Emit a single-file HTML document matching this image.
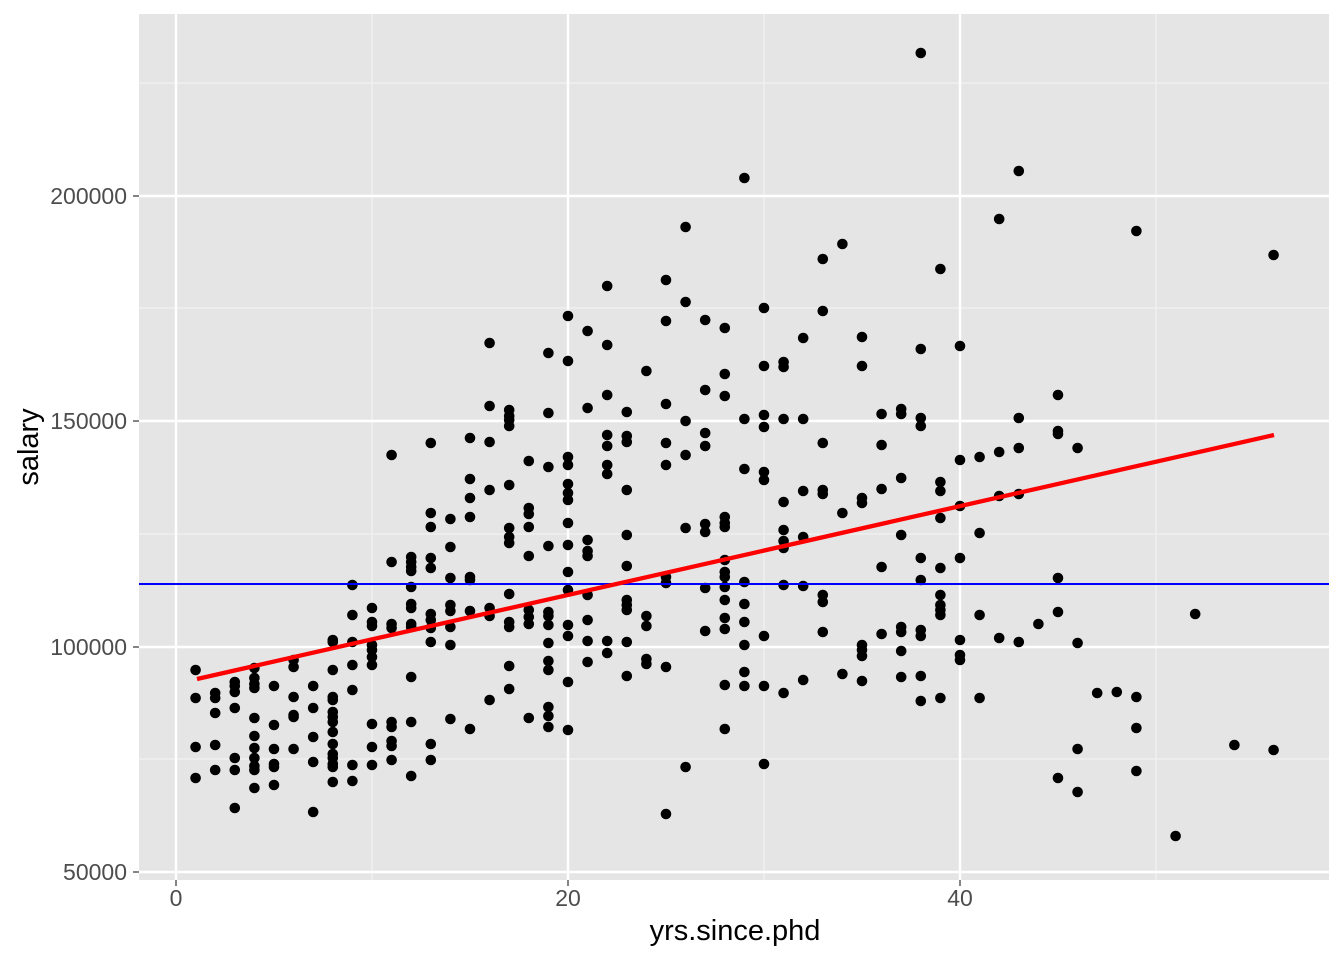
<!DOCTYPE html>
<html><head><meta charset="utf-8"><style>
html,body{margin:0;padding:0;background:#fff;}
svg{display:block;font-family:"Liberation Sans",Arial,sans-serif;}
</style></head><body>
<svg id="s" width="1344" height="960" xmlns="http://www.w3.org/2000/svg">
<rect x="139" y="14" width="1190" height="866" fill="#e5e5e5"/>
<g stroke="#f2f2f2" stroke-width="1.2">
<line x1="372" x2="372" y1="14" y2="880"/><line x1="764" x2="764" y1="14" y2="880"/><line x1="1156" x2="1156" y1="14" y2="880"/>
<line x1="139" x2="1329" y1="83" y2="83"/><line x1="139" x2="1329" y1="308" y2="308"/><line x1="139" x2="1329" y1="534" y2="534"/><line x1="139" x2="1329" y1="759" y2="759"/>
</g>
<g stroke="#fff" stroke-width="2.4">
<line x1="176" x2="176" y1="14" y2="880"/><line x1="568" x2="568" y1="14" y2="880"/><line x1="960" x2="960" y1="14" y2="880"/>
<line x1="139" x2="1329" y1="196" y2="196"/><line x1="139" x2="1329" y1="421" y2="421"/><line x1="139" x2="1329" y1="647" y2="647"/><line x1="139" x2="1329" y1="872" y2="872"/>
</g>
<g id="pts" fill="#000"></g>
<line x1="139" x2="1329" y1="584" y2="584" stroke="#0000ff" stroke-width="2"/>
<line x1="197" y1="679" x2="1274" y2="435" stroke="#ff0000" stroke-width="4.3"/>
<g stroke="#333" stroke-width="1.2">
<line x1="133" x2="139" y1="196" y2="196"/><line x1="133" x2="139" y1="421" y2="421"/><line x1="133" x2="139" y1="647" y2="647"/><line x1="133" x2="139" y1="872" y2="872"/>
<line x1="176" x2="176" y1="880" y2="886"/><line x1="568" x2="568" y1="880" y2="886"/><line x1="960" x2="960" y1="880" y2="886"/>
</g>
<g fill="#4d4d4d" font-size="23" text-anchor="end">
<text x="127" y="204">200000</text><text x="127" y="429">150000</text><text x="127" y="655">100000</text><text x="127" y="880">50000</text>
</g>
<g fill="#4d4d4d" font-size="23" text-anchor="middle">
<text x="176" y="906">0</text><text x="568" y="906">20</text><text x="960" y="906">40</text>
</g>
<text x="735" y="940" font-size="29" text-anchor="middle" fill="#000">yrs.since.phd</text>
<text transform="translate(38,447) rotate(-90)" font-size="29" text-anchor="middle" fill="#000">salary</text>
</svg>
<script>
var d={1:[670,698,747,778],2:[693,698,713,745,770],3:[682,686,692,708,758,770,808],4:[668,678,684,688,718,736,748,758,766,770,788],5:[686,725,749,764,767,785],6:[660,667,697,715,717,749],7:[686,708,737,762,812],8:[640,642,670,697,700,712,717,722,732,744,754,758,764,767,782],9:[585,615,642,665,690,765,781],10:[608,622,626,645,650,657,665,724,747,765],11:[455,562,624,628,722,727,741,746,760],12:[557,562,567,571,587,604,608,624,627,677,722,776],13:[443,513,527,558,568,614,620,628,642,744,760],14:[519,547,578,605,611,627,645,719],15:[438,479,498,517,577,580,611,729],16:[343,406,442,490,608,616,700],17:[410,416,420,426,485,528,537,543,594,622,627,666,689],18:[461,508,514,527,556,610,617,624,718],19:[353,413,467,546,612,616,625,643,661,670,707,716,727],20:[316,361,457,465,484,493,500,523,545,572,590,625,636,682,730],21:[331,408,540,551,556,595,620,641,662],22:[286,345,395,435,446,465,474,641,653],23:[412,436,442,490,535,566,600,605,610,642,676],24:[371,616,626,659,664],25:[280,321,404,443,465,577,583,667,814],26:[227,302,421,455,528,767],27:[320,390,433,446,524,532,588,631],28:[328,374,396,517,523,527,560,572,577,587,600,618,629,685,729],29:[178,419,469,582,604,622,645,672,686],30:[308,366,415,427,472,480,636,686,764],31:[362,367,419,502,530,541,548,585,693],32:[338,419,491,537,586,680],33:[259,311,443,490,494,595,602,632],34:[244,513,674],35:[337,366,498,503,645,650,656,681],36:[414,445,489,567,634],37:[409,414,478,535,627,632,651,677],38:[53,349,418,426,558,580,630,636,676,701],39:[269,482,491,518,568,595,605,610,615,698],40:[346,460,506,558,640,655,660],41:[457,533,615,698],42:[219,452,496,638],43:[171,418,448,494,642],44:[624],45:[395,431,434,578,612,778],46:[448,643,749,792],47:[693],48:[692],49:[231,697,728,771],51:[836],52:[614],54:[745],56:[255,750]};
var g=document.getElementById('pts'),h='';
for(var k in d){var x=176+19.6*k;d[k].forEach(function(y){h+='<circle cx="'+x.toFixed(1)+'" cy="'+y+'" r="5.3"/>';});}
g.innerHTML=h;
</script>
</body></html>
